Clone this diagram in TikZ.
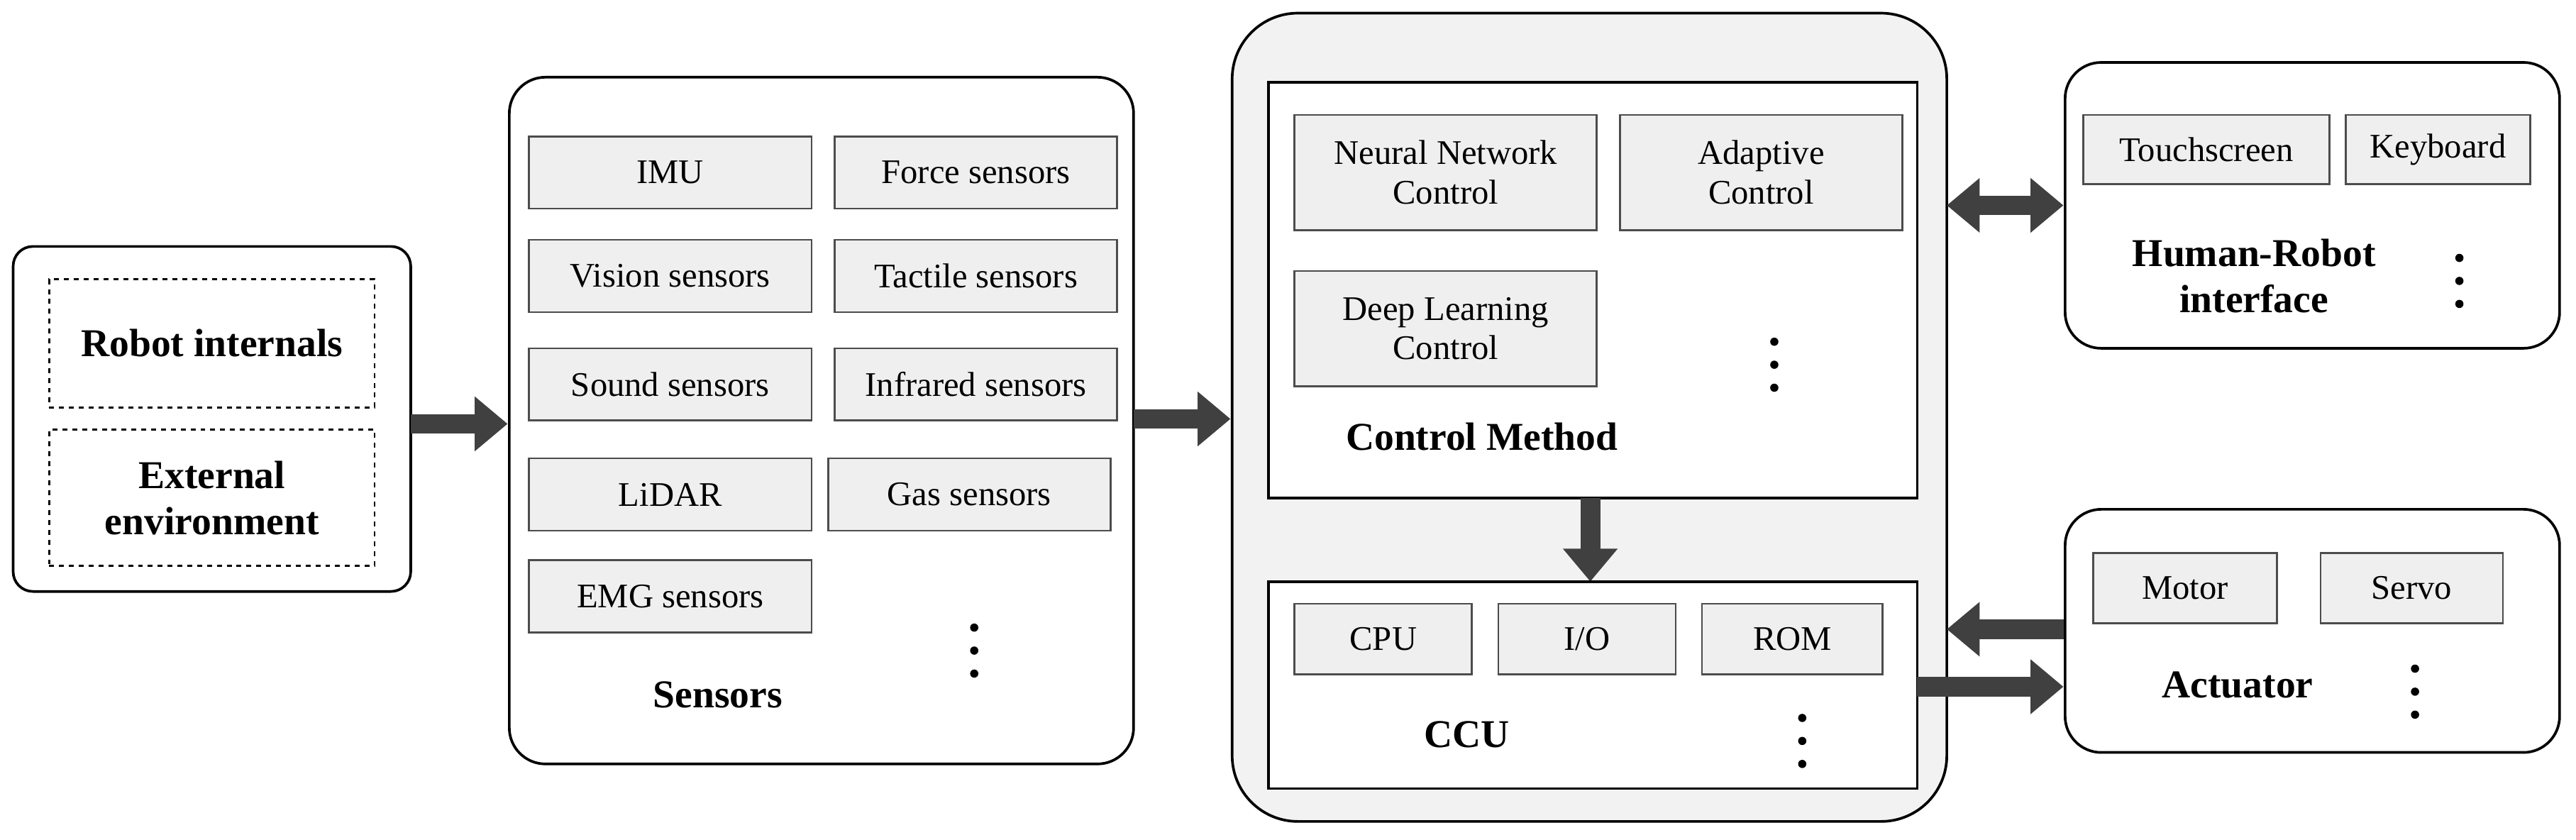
\documentclass[tikz,border=0pt]{standalone}
\usepackage{fontspec}
\setmainfont{Liberation Serif}
\usetikzlibrary{arrows.meta}
\definecolor{arr}{HTML}{404040}
\definecolor{itemfill}{HTML}{EFEFEF}
\definecolor{outerfill}{HTML}{F2F2F2}
\begin{document}
\begin{tikzpicture}[x=1pt,y=-1pt,
  panel/.style={draw=black,line width=1.6pt,rounded corners=22pt,fill=white},
  item/.style={draw=black!70,line width=1.2pt,fill=itemfill,font=\fontsize{21}{24}\selectfont,align=center,inner sep=0pt},
  lbl/.style={font=\bfseries\fontsize{24}{28}\selectfont,align=center},
  bigarr/.style={arr,line width=12pt,-{Triangle[length=20pt,width=32pt]}},
  dbl/.style={arr,line width=12pt,{Triangle[length=20pt,width=32pt]}-{Triangle[length=20pt,width=32pt]}},
  dot/.style={circle,fill=black,inner sep=0pt,minimum size=5pt}]
\useasboundingbox (0,0) rectangle (1568,511);
% left
\draw[panel,rounded corners=12pt] (8,150) rectangle (250,360);
\node[draw,dashed,line width=1.2pt,minimum width=198pt,minimum height=78pt,lbl] (ri) at (129,209) {Robot internals};
\node[draw,dashed,line width=1.2pt,minimum width=198pt,minimum height=83pt,lbl] (ee) at (129,303) {External\\environment};
\coordinate (a1s) at (250,258); \coordinate (a1e) at (309,258);
\draw[bigarr] (a1s) -- (a1e);
% sensors
\draw[panel] (310,47) rectangle (690,465);
\foreach \n/\t/\x/\y/\w in {imu/IMU/408/105/172, force/Force sensors/594/105/172, vis/Vision sensors/408/168/172, tac/Tactile sensors/594/168/172, snd/Sound sensors/408/234/172, inf/Infrared sensors/594/234/172, lid/LiDAR/408/301/172, gas/Gas sensors/590/301/172, emg/EMG sensors/408/363/172}
  \node[item,minimum width=\w pt,minimum height=44pt] (\n) at (\x,\y) {\t};
\foreach \y in {382,396,410} \node[dot] at (593,\y) {};
\node[lbl] (sens) at (437,423) {Sensors};
\coordinate (a2s) at (690,255); \coordinate (a2e) at (749,255);
\draw[bigarr] (a2s) -- (a2e);
% central
\draw[panel,fill=outerfill,rounded corners=40pt] (750,8) rectangle (1185,500);
\draw[draw=black,line width=1.6pt,fill=white] (772,50) rectangle (1167,303);
\node[item,minimum width=184pt,minimum height=70pt] (nn) at (880,105) {Neural Network\\Control};
\node[item,minimum width=172pt,minimum height=70pt] (ad) at (1072,105) {Adaptive\\Control};
\node[item,minimum width=184pt,minimum height=70pt] (dl) at (880,200) {Deep Learning\\Control};
\foreach \y in {208,222,236} \node[dot] at (1080,\y) {};
\node[lbl] (cm) at (902,266) {Control Method};
\coordinate (a3s) at (968,303); \coordinate (a3e) at (968,354);
\draw[bigarr] (a3s) -- (a3e);
\draw[draw=black,line width=1.6pt,fill=white] (772,354) rectangle (1167,480);
\node[item,minimum width=108pt,minimum height=43pt] (cpu) at (842,389) {CPU};
\node[item,minimum width=108pt,minimum height=43pt] (io) at (966,389) {I/O};
\node[item,minimum width=110pt,minimum height=43pt] (rom) at (1091,389) {ROM};
\foreach \y in {437,451,465} \node[dot] at (1097,\y) {};
\node[lbl] (ccu) at (893,447) {CCU};
% HRI
\coordinate (d1s) at (1185,125); \coordinate (d1e) at (1256,125);
\draw[dbl] (d1s) -- (d1e);
\draw[panel] (1257,38) rectangle (1558,212);
\node[item,minimum width=150pt,minimum height=42pt] (ts) at (1343,91) {Touchscreen};
\node[item,minimum width=112pt,minimum height=42pt] (kb) at (1484,91) {Keyboard};
\node[lbl] (hri) at (1372,168) {Human-Robot\\interface};
\foreach \y in {157,171,185} \node[dot] at (1497,\y) {};
% actuator
\draw[panel] (1257,310) rectangle (1558,458);
\node[item,minimum width=112pt,minimum height=43pt] (mot) at (1330,358) {Motor};
\node[item,minimum width=111pt,minimum height=43pt] (srv) at (1468,358) {Servo};
\node[lbl] (act) at (1362,417) {Actuator};
\foreach \y in {407,421,435} \node[dot] at (1470,\y) {};
\coordinate (a4s) at (1256,383); \coordinate (a4e) at (1185,383);
\draw[bigarr] (a4s) -- (a4e);
\coordinate (a5s) at (1167,418); \coordinate (a5e) at (1256,418);
\draw[bigarr] (a5s) -- (a5e);
\end{tikzpicture}
\end{document}
